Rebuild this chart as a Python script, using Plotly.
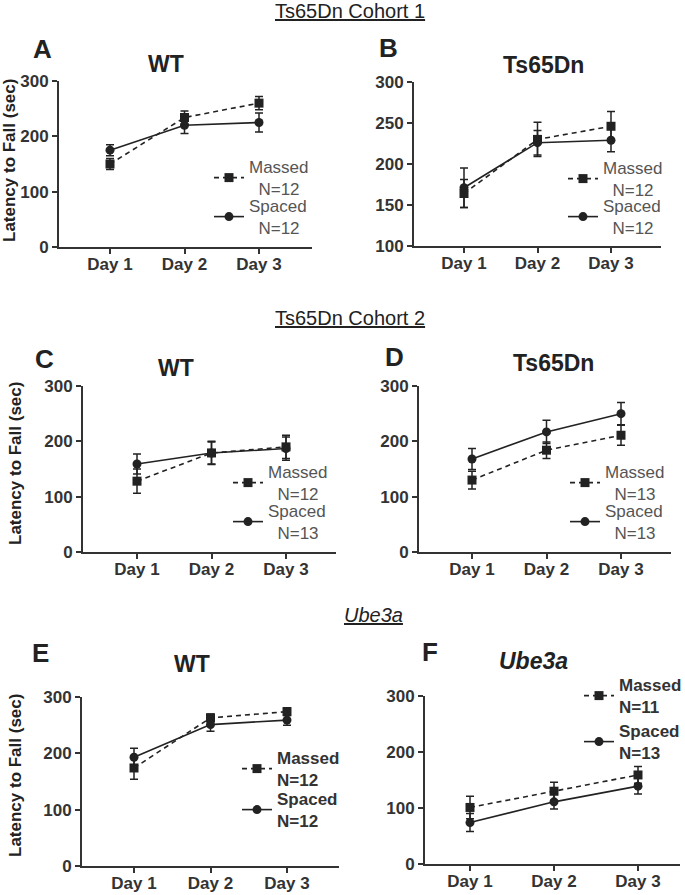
import plotly.graph_objects as go

# ---------------- data ----------------
days = ["Day 1", "Day 2", "Day 3"]

a_massed = [150, 234, 260]
a_massed_err = [10, 12, 12]
a_spaced = [175, 220, 225]
a_spaced_err = [10, 15, 17]

b_massed = [164, 230, 246]
b_massed_err = [17, 21, 18]
b_spaced = [171, 226, 229]
b_spaced_err = [24, 15, 14]

c_massed = [128, 179, 190]
c_massed_err = [22, 21, 21]
c_spaced = [159, 179, 187]
c_spaced_err = [18, 20, 21]

d_massed = [130, 184, 211]
d_massed_err = [16, 15, 18]
d_spaced = [168, 217, 250]
d_spaced_err = [19, 21, 20]

e_massed = [174, 263, 274]
e_massed_err = [20, 7, 7]
e_spaced = [193, 251, 259]
e_spaced_err = [16, 12, 9]

f_massed = [101, 130, 159]
f_massed_err = [20, 16, 15]
f_spaced = [74, 111, 139]
f_spaced_err = [16, 13, 14]

n_massed = [12, 12, 12, 13, 12, 11]
n_spaced = [12, 12, 13, 13, 12, 13]
panel_letters = ["A", "B", "C", "D", "E", "F"]
panel_titles = ["WT", "Ts65Dn", "WT", "Ts65Dn", "WT", "<i>Ube3a</i>"]
headings = ["<u>Ts65Dn Cohort 1</u>", "<u>Ts65Dn Cohort 2</u>", "<u><i>Ube3a</i></u>"]
y_title = "Latency to Fall (sec)"

# ---------------- layout helpers ----------------
W, H = 685, 895
FONT = "Liberation Sans, Arial, sans-serif"
INK = "#222222"
AX = "#333333"


def px(x):
    return x / W


def py(y):
    return 1 - y / H


series = [
    (a_massed, a_massed_err, a_spaced, a_spaced_err),
    (b_massed, b_massed_err, b_spaced, b_spaced_err),
    (c_massed, c_massed_err, c_spaced, c_spaced_err),
    (d_massed, d_massed_err, d_spaced, d_spaced_err),
    (e_massed, e_massed_err, e_spaced, e_spaced_err),
    (f_massed, f_massed_err, f_spaced, f_spaced_err),
]

# pixel geometry of each panel: axis x0, x1, top, bottom, day centres, y range
geo = [
    dict(x0=59, x1=312, yt=81, yb=247, d=(110, 259), yr=[0, 300], dt=100,
         title=(166, 64), letter=(42, 49), leg_x=229, leg_y=(178, 217), bold=False),
    dict(x0=414, x1=661, yt=82, yb=246, d=(464, 611), yr=[100, 300], dt=50,
         title=(543, 65), letter=(388, 48), leg_x=583, leg_y=(179, 217), bold=False),
    dict(x0=83, x1=336, yt=386, yb=552, d=(137, 286), yr=[0, 300], dt=100,
         title=(176, 368), letter=(44, 359), leg_x=248, leg_y=(483, 522), bold=False),
    dict(x0=419, x1=671, yt=386, yb=552, d=(472, 621), yr=[0, 300], dt=100,
         title=(553, 363), letter=(394, 357), leg_x=585, leg_y=(483, 522), bold=False),
    dict(x0=82, x1=339, yt=697, yb=866, d=(134, 287), yr=[0, 300], dt=100,
         title=(192, 664), letter=(40, 653), leg_x=257, leg_y=(769, 810), bold=True),
    dict(x0=425, x1=680, yt=696, yb=864, d=(470, 638), yr=[0, 300], dt=100,
         title=(533, 661), letter=(430, 652), leg_x=599, leg_y=(696, 742), bold=True),
]

fig = go.Figure()
layout = dict(
    width=W, height=H,
    margin=dict(l=0, r=0, t=0, b=0, pad=0, autoexpand=False),
    paper_bgcolor="white", plot_bgcolor="white",
    font=dict(family=FONT, color=AX),
    showlegend=True,
    annotations=[],
)

for i, (g, (m, me, s, se)) in enumerate(zip(geo, series)):
    k = i + 1
    xa = "x" if k == 1 else f"x{k}"
    ya = "y" if k == 1 else f"y{k}"
    lm = "legend" if 2 * i + 1 == 1 else f"legend{2 * i + 1}"
    ls = f"legend{2 * i + 2}"

    if g["bold"]:
        nm_m = f"Massed<br>N={n_massed[i]}"
        nm_s = f"Spaced<br>N={n_spaced[i]}"
    else:
        nm_m = f"Massed<br>&nbsp;&nbsp;N={n_massed[i]}"
        nm_s = f"Spaced<br>&nbsp;&nbsp;N={n_spaced[i]}"

    fig.add_trace(go.Scatter(
        x=days, y=m, name=nm_m, mode="lines+markers", showlegend=True,
        error_y=dict(type="data", array=me, color=INK, thickness=1.5, width=4),
        line=dict(color=INK, width=1.6, dash="5px,4px"),
        marker=dict(symbol="square", size=9, color=INK),
        xaxis=xa, yaxis=ya, legend=lm, cliponaxis=False,
    ))
    fig.add_trace(go.Scatter(
        x=days, y=s, name=nm_s, mode="lines+markers", showlegend=True,
        error_y=dict(type="data", array=se, color=INK, thickness=1.5, width=4),
        line=dict(color=INK, width=1.6),
        marker=dict(symbol="circle", size=9, color=INK),
        xaxis=xa, yaxis=ya, legend=ls, cliponaxis=False,
    ))

    d1, d3 = g["d"]
    sp = (d3 - d1) / 2
    xr = [(g["x0"] - d1) / sp, (g["x1"] - d1) / sp]

    layout["xaxis" if k == 1 else f"xaxis{k}"] = dict(
        domain=[px(g["x0"]), px(g["x1"])], anchor=ya, type="category",
        range=xr, showline=True, linecolor=AX, linewidth=2,
        ticks="outside", ticklen=5, tickwidth=2, tickcolor=AX,
        ticklabelstandoff=-4,
        showgrid=False, zeroline=False, fixedrange=True,
        tickfont=dict(family=FONT, size=17, color=AX, weight="bold"),
    )
    layout["yaxis" if k == 1 else f"yaxis{k}"] = dict(
        domain=[py(g["yb"]), py(g["yt"])], anchor=xa,
        range=g["yr"], dtick=g["dt"], tick0=0,
        showline=True, linecolor=AX, linewidth=2,
        ticks="outside", ticklen=5, tickwidth=2, tickcolor=AX,
        showgrid=False, zeroline=False, fixedrange=True,
        tickfont=dict(family=FONT, size=17, color=AX, weight="bold"),
    )

    leg_font = dict(family=FONT, size=17,
                    color="#333333" if g["bold"] else "#555555",
                    weight="bold" if g["bold"] else "normal")
    for lid, yy in ((lm, g["leg_y"][0]), (ls, g["leg_y"][1])):
        layout[lid] = dict(
            x=px(g["leg_x"] - 20), xanchor="left",
            y=py(yy), yanchor="middle",
            bgcolor="rgba(0,0,0,0)", borderwidth=0,
            font=leg_font, itemwidth=30, tracegroupgap=0,
            valign="middle", visible=True,
        )

    tx, ty = g["title"]
    layout["annotations"].append(dict(
        text=f"<b>{panel_titles[i]}</b>", x=px(tx), y=py(ty),
        xref="paper", yref="paper", xanchor="center", yanchor="middle",
        showarrow=False, font=dict(family=FONT, size=23, color=INK)))
    lx, lyy = g["letter"]
    layout["annotations"].append(dict(
        text=f"<b>{panel_letters[i]}</b>", x=px(lx), y=py(lyy),
        xref="paper", yref="paper", xanchor="center", yanchor="middle",
        showarrow=False, font=dict(family=FONT, size=26, color=INK)))

# y axis titles (left column)
for (yx, yc) in ((10, 161), (15, 464), (15, 776)):
    layout["annotations"].append(dict(
        text=f"<b>{y_title}</b>", x=px(yx), y=py(yc), textangle=-90,
        xref="paper", yref="paper", xanchor="center", yanchor="middle",
        showarrow=False, font=dict(family=FONT, size=17, color=INK)))

# section headings
for (txt, hx, hy) in zip(headings, (350, 350, 373), (11, 318, 615)):
    layout["annotations"].append(dict(
        text=txt, x=px(hx), y=py(hy),
        xref="paper", yref="paper", xanchor="center", yanchor="middle",
        showarrow=False, font=dict(family=FONT, size=20, color=INK)))

fig.update_layout(**layout)
fig.write_html(
    "out.html",
    config={"displayModeBar": False},
    post_script="document.body.style.margin='0';document.body.style.overflow='hidden';",
)
